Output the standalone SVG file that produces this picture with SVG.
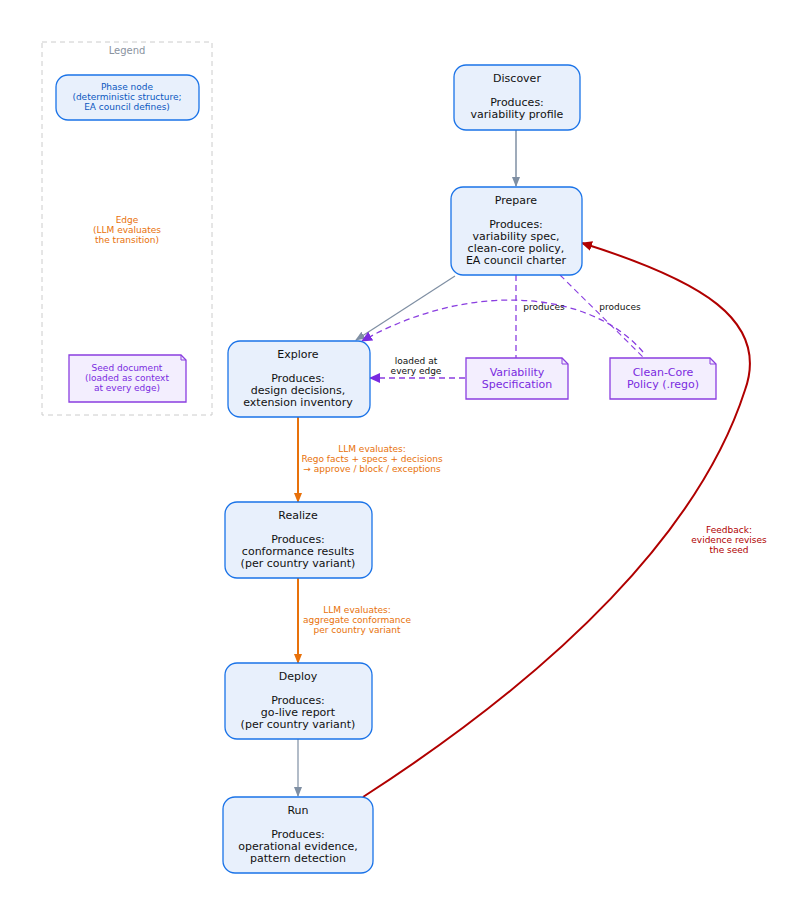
<svg xmlns="http://www.w3.org/2000/svg" width="800" height="908" viewBox="0 0 800 908">
<defs>
<style>
text{font-family:"DejaVu Sans",sans-serif;text-anchor:middle}
.ph{fill:#e8f0fc;stroke:#1a73e8;stroke-width:1.3}
.pt{font-size:11px;fill:#111}
.sd{fill:#f3eefe;stroke:#8a3ee0;stroke-width:1.3}
.st{font-size:11px;fill:#7a2be0}
.ol{font-size:9px;fill:#e8710a}
.bl{font-size:9px;fill:#111}
</style>
<marker id="ag" markerWidth="10" markerHeight="10" refX="9" refY="5" orient="auto" markerUnits="userSpaceOnUse"><path d="M0,1 L10,5 L0,9z" fill="#7f8fa3"/></marker>
<marker id="ao" markerWidth="10" markerHeight="10" refX="9" refY="5" orient="auto" markerUnits="userSpaceOnUse"><path d="M0,1 L10,5 L0,9z" fill="#e8710a"/></marker>
<marker id="ap" markerWidth="12" markerHeight="12" refX="10" refY="6" orient="auto" markerUnits="userSpaceOnUse"><path d="M0,1 L11,6 L0,11z" fill="#7a2be0"/></marker>
<marker id="ar" markerWidth="12" markerHeight="12" refX="10" refY="6" orient="auto" markerUnits="userSpaceOnUse"><path d="M0,1 L11,6 L0,11z" fill="#b00000"/></marker>
</defs>
<rect width="800" height="908" fill="#fff"/>
<g id="legend">
<rect x="42" y="42" width="170" height="373" fill="none" stroke="#ccc" stroke-dasharray="5,4"/>
<text x="127" y="54" font-size="10" fill="#8a93a0">Legend</text>
<rect class="ph" x="56" y="75" width="143" height="45" rx="12"/>
<text x="127" y="90" font-size="9" fill="#0b57c0">Phase node</text>
<text x="127" y="100" font-size="9" fill="#0b57c0">(deterministic structure;</text>
<text x="127" y="110" font-size="9" fill="#0b57c0">EA council defines)</text>
<text class="ol" x="127" y="223">Edge</text>
<text class="ol" x="127" y="233">(LLM evaluates</text>
<text class="ol" x="127" y="243">the transition)</text>
<path class="sd" d="M69,355 H181 L186,360 V402 H69z"/>
<path d="M181,355 V360 H186" fill="none" stroke="#8a3ee0"/>
<text x="127" y="371" font-size="9" fill="#7a2be0">Seed document</text>
<text x="127" y="381" font-size="9" fill="#7a2be0">(loaded as context</text>
<text x="127" y="391" font-size="9" fill="#7a2be0">at every edge)</text>
</g>
<g id="connectors" fill="none">
<line x1="516" y1="130" x2="516" y2="186" stroke="#7f8fa3" stroke-width="1.5" marker-end="url(#ag)"/>
<line x1="455" y1="276" x2="356" y2="340" stroke="#7f8fa3" stroke-width="1.2" marker-end="url(#ag)"/>
<line x1="516" y1="275" x2="516" y2="358" stroke="#8a3ee0" stroke-width="1.3" stroke-dasharray="6,4"/>
<line x1="560" y1="275" x2="643" y2="357" stroke="#8a3ee0" stroke-width="1.1" stroke-dasharray="6,4"/>
<path d="M643,352 C590,290 470,280 362,341" stroke="#8a3ee0" stroke-width="1.3" stroke-dasharray="6,4" marker-end="url(#ap)"/>
<line x1="465" y1="378" x2="370" y2="378" stroke="#8a3ee0" stroke-width="1.3" stroke-dasharray="6,4" marker-end="url(#ap)"/>
<line x1="298" y1="417" x2="298" y2="502" stroke="#e8710a" stroke-width="2" marker-end="url(#ao)"/>
<line x1="298" y1="578" x2="298" y2="663" stroke="#e8710a" stroke-width="2" marker-end="url(#ao)"/>
<line x1="298" y1="739" x2="298" y2="796" stroke="#7f8fa3" stroke-width="1.2" marker-end="url(#ag)"/>
<path d="M363,797 C560,670 700,530 745,390 C770,320 700,280 582,243" stroke="#b00000" stroke-width="2" marker-end="url(#ar)"/>
<text class="bl" x="544" y="310">produces</text>
<text class="bl" x="620" y="310">produces</text>
<text class="bl" x="416" y="364">loaded at</text>
<text class="bl" x="416" y="374">every edge</text>
<text class="ol" x="372" y="452">LLM evaluates:</text>
<text class="ol" x="372" y="462">Rego facts + specs + decisions</text>
<text class="ol" x="372" y="472">→ approve / block / exceptions</text>
<text class="ol" x="357" y="613">LLM evaluates:</text>
<text class="ol" x="357" y="623">aggregate conformance</text>
<text class="ol" x="357" y="633">per country variant</text>
<text x="729" y="533" font-size="9" fill="#b00000">Feedback:</text>
<text x="729" y="543" font-size="9" fill="#b00000">evidence revises</text>
<text x="729" y="553" font-size="9" fill="#b00000">the seed</text>
</g>
<g id="discover"><rect class="ph" x="454" y="65" width="126" height="65" rx="12"/>
<text class="pt" x="517" y="82">Discover</text><text class="pt" x="517" y="106">Produces:</text><text class="pt" x="517" y="118">variability profile</text></g>
<g id="prepare"><rect class="ph" x="451" y="187" width="131" height="88" rx="12"/>
<text class="pt" x="516" y="204">Prepare</text><text class="pt" x="516" y="228">Produces:</text><text class="pt" x="516" y="240">variability spec,</text><text class="pt" x="516" y="252">clean-core policy,</text><text class="pt" x="516" y="264">EA council charter</text></g>
<g id="explore"><rect class="ph" x="228" y="341" width="142" height="76" rx="12"/>
<text class="pt" x="298" y="358">Explore</text><text class="pt" x="298" y="382">Produces:</text><text class="pt" x="298" y="394">design decisions,</text><text class="pt" x="298" y="406">extension inventory</text></g>
<g id="varspec"><path class="sd" d="M466,358 H562 L568,364 V399 H466z"/><path d="M562,358 V364 H568" fill="none" stroke="#8a3ee0"/>
<text class="st" x="517" y="376">Variability</text><text class="st" x="517" y="388">Specification</text></g>
<g id="cleancore"><path class="sd" d="M610,358 H710 L716,364 V399 H610z"/><path d="M710,358 V364 H716" fill="none" stroke="#8a3ee0"/>
<text class="st" x="663" y="376">Clean-Core</text><text class="st" x="663" y="388">Policy (.rego)</text></g>
<g id="realize"><rect class="ph" x="225" y="502" width="147" height="76" rx="12"/>
<text class="pt" x="298" y="519">Realize</text><text class="pt" x="298" y="543">Produces:</text><text class="pt" x="298" y="555">conformance results</text><text class="pt" x="298" y="567">(per country variant)</text></g>
<g id="deploy"><rect class="ph" x="225" y="663" width="147" height="76" rx="12"/>
<text class="pt" x="298" y="680">Deploy</text><text class="pt" x="298" y="704">Produces:</text><text class="pt" x="298" y="716">go-live report</text><text class="pt" x="298" y="728">(per country variant)</text></g>
<g id="run"><rect class="ph" x="223" y="797" width="150" height="76" rx="12"/>
<text class="pt" x="298" y="814">Run</text><text class="pt" x="298" y="838">Produces:</text><text class="pt" x="298" y="850">operational evidence,</text><text class="pt" x="298" y="862">pattern detection</text></g>
</svg>
